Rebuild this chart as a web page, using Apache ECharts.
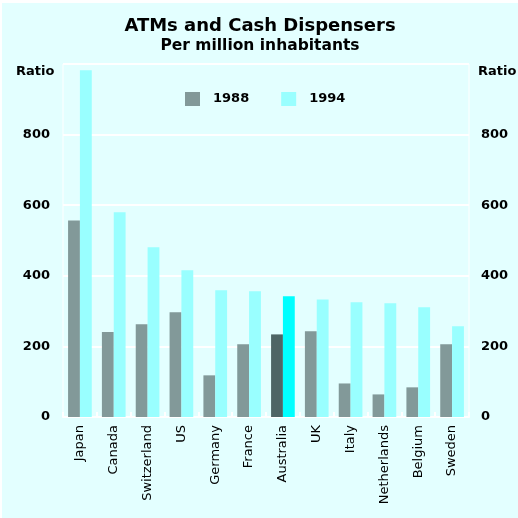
<!DOCTYPE html>
<html>
<head>
<meta charset="utf-8">
<script src="https://cdn.jsdelivr.net/npm/echarts@6/dist/echarts.min.js"></script>
<style>
  html, body { margin: 0; padding: 0; background: #ffffff; }
  #echart { position: absolute; left: 2px; top: 3px; width: 516px; height: 515px; background: #e3ffff; }
</style>
</head>
<body>
<div id="echart"></div>
<script>
// values
let countries = ['Japan', 'Canada', 'Switzerland', 'US', 'Germany', 'France', 'Australia', 'UK', 'Italy', 'Netherlands', 'Belgium', 'Sweden'];
let y1988 = [557, 241, 263, 297, 118, 206, 234, 243, 95, 64, 84, 206];
let y1994 = [982, 580, 481, 416, 359, 356, 342, 333, 325, 322, 311, 257];
let yTicks = [0, 200, 400, 600, 800];

let highlight = 'Australia';
let fontName = "'DejaVu Sans', sans-serif";

function drawChart() {
	let dom = document.getElementById("echart");
	let myChart = echarts.init(dom);

	let d88 = y1988.map(function(v, i) {
		if (countries[i] == highlight) {
			return { value: v, itemStyle: { color: '#4e6565' } };
		}
		return v;
	});
	let d94 = y1994.map(function(v, i) {
		if (countries[i] == highlight) {
			return { value: v, itemStyle: { color: '#00ffff' } };
		}
		return v;
	});

	let labelFmt = function(v) {
		return yTicks.indexOf(v) >= 0 ? String(v) : '';
	};

	let option = {
		backgroundColor: '#e3ffff',
		animation: false,
		textStyle: { fontFamily: fontName },
		title: {
			text: 'ATMs and Cash Dispensers',
			subtext: 'Per million inhabitants',
			left: 'center',
			top: 9,
			itemGap: 3,
			textStyle: { fontSize: 18, fontWeight: 'bold', color: '#000', fontFamily: fontName },
			subtextStyle: { fontSize: 15.5, fontWeight: 'bold', color: '#000', fontFamily: fontName }
		},
		legend: {
			data: ['1988', '1994'],
			top: 84,
			left: 178,
			itemWidth: 15,
			itemHeight: 14,
			itemGap: 32,
			icon: 'rect',
			textStyle: { fontSize: 13, fontWeight: 'bold', color: '#000', fontFamily: fontName, padding: [0, 0, 0, 8] }
		},
		graphic: [
			{ type: 'text', left: 14, top: 62, style: { text: 'Ratio', fontSize: 13, fontWeight: 'bold', fontFamily: fontName, fill: '#000' } },
			{ type: 'text', left: 476, top: 62, style: { text: 'Ratio', fontSize: 13, fontWeight: 'bold', fontFamily: fontName, fill: '#000' } }
		],
		grid: {
			left: 61,
			right: 49,
			top: 61,
			bottom: 101,
			show: true,
			borderColor: '#ffffff',
			borderWidth: 1
		},
		xAxis: {
			type: 'category',
			data: countries,
			axisLine: { lineStyle: { color: '#ffffff', width: 2 } },
			axisTick: { show: true, inside: true, length: 5, lineStyle: { color: '#ffffff', width: 2 } },
			axisLabel: { rotate: 90, fontSize: 13, color: '#000', margin: 8, interval: 0, fontFamily: fontName }
		},
		yAxis: [
			{
				type: 'value',
				min: 0,
				max: 1000,
				interval: 200,
				axisLine: { show: false },
				axisTick: { show: false },
				splitLine: { lineStyle: { color: '#ffffff', width: 2 } },
				axisLabel: { fontSize: 13, fontWeight: 'bold', color: '#000', margin: 13, formatter: labelFmt, fontFamily: fontName }
			},
			{
				type: 'value',
				position: 'right',
				min: 0,
				max: 1000,
				interval: 200,
				axisLine: { show: false },
				axisTick: { show: false },
				splitLine: { show: false },
				axisLabel: { fontSize: 13, fontWeight: 'bold', color: '#000', margin: 12, formatter: labelFmt, fontFamily: fontName }
			}
		],
		series: [
			{
				name: '1988',
				type: 'bar',
				data: d88,
				itemStyle: { color: '#829999' },
				barGap: '0%',
				barCategoryGap: '30%'
			},
			{
				name: '1994',
				type: 'bar',
				data: d94,
				itemStyle: { color: '#99ffff' },
				barGap: '0%',
				barCategoryGap: '30%'
			}
		]
	};

	if (option && typeof option === 'object') {
		myChart.setOption(option);
	}
}

drawChart();
</script>
</body>
</html>
